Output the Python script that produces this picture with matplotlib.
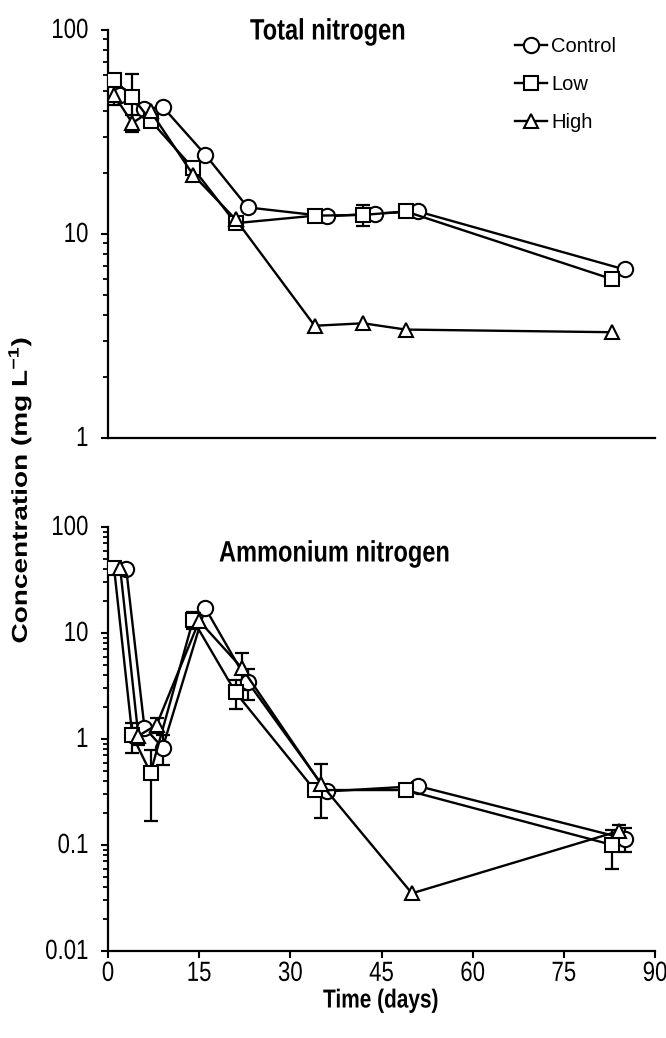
import matplotlib
matplotlib.use("Agg")
import matplotlib.pyplot as plt
import numpy as np
from matplotlib.patheffects import AbstractPathEffect
from matplotlib.ticker import LogLocator, NullFormatter
from matplotlib.transforms import Affine2D

# sampling days and concentrations (mg/L), mean and SD
ctrl_tn_day = [2, 6, 9, 16, 23, 36, 44, 51, 85]
ctrl_tn = [48, 41, 42, 24.5, 13.5, 12.2, 12.6, 12.9, 6.7]
ctrl_tn_sd = [0, 0, 0, 0, 0, 0, 0, 0, 0]

low_tn_day = [1, 4, 7, 14, 21, 34, 42, 49, 83]
low_tn = [57, 47, 36, 21, 11.3, 12.3, 12.4, 12.9, 6.0]
low_tn_sd = [4, 14, 0, 0, 0, 0, 1.5, 0, 0]

high_tn_day = [1, 4, 7, 14, 21, 34, 42, 49, 83]
high_tn = [48, 35, 40, 19.5, 11.8, 3.55, 3.65, 3.4, 3.3]
high_tn_sd = [5, 3.5, 0, 0, 0, 0, 0, 0, 0]

ctrl_an_day = [3, 6, 9, 16, 23, 36, 51, 85]
ctrl_an = [40, 1.28, 0.83, 17.2, 3.45, 0.32, 0.36, 0.115]
ctrl_an_sd = [0, 0, 0.26, 0, 1.1, 0, 0.03, 0.03]

low_an_day = [1, 4, 7, 14, 21, 34, 49, 83]
low_an = [41, 1.08, 0.48, 13.3, 2.75, 0.33, 0.33, 0.10]
low_an_sd = [0, 0.35, 0.31, 2.5, 0.85, 0, 0, 0.04]

high_an_day = [2, 5, 8, 15, 22, 35, 50, 84]
high_an = [41, 1.07, 1.36, 13.0, 4.7, 0.38, 0.035, 0.135]
high_an_sd = [0, 0.2, 0.22, 0, 1.8, 0.2, 0, 0.02]

labels = ["Control", "Low", "High"]
x_ticks = [0, 15, 30, 45, 60, 75, 90]

plt.rcParams["font.family"] = ["Liberation Sans", "DejaVu Sans"]
plt.rcParams["mathtext.fontset"] = "custom"
plt.rcParams["mathtext.rm"] = "Liberation Sans"
plt.rcParams["mathtext.bf"] = "Liberation Sans:bold"


class Stretch(AbstractPathEffect):
    """Scale glyph outlines in the text's own frame (tall, narrow type)."""

    def __init__(self, sx=1.0, sy=1.0):
        super().__init__()
        self.sx, self.sy = sx, sy

    def draw_path(self, renderer, gc, tpath, affine, rgbFace=None):
        renderer.draw_path(gc, tpath,
                           Affine2D().scale(self.sx, self.sy) + affine,
                           rgbFace)


fig = plt.figure(figsize=(6.66, 10.38), dpi=100)
ax1 = fig.add_axes([108 / 666, 1 - 438 / 1038, 547 / 666, 408 / 1038])
ax2 = fig.add_axes([108 / 666, 1 - 951 / 1038, 547 / 666, 424 / 1038])


def draw_series(ax, day, val, sd, mk):
    day = np.array(day, dtype=float)
    val = np.array(val, dtype=float)
    sd = np.array(sd, dtype=float)
    line, = ax.plot(day, val, "-", marker=mk, color="black", lw=1.7,
                    ms=11 if mk == "o" else 10, mfc="white", mec="black",
                    mew=1.5, zorder=3)
    m = sd > 0
    if m.any():
        ax.errorbar(day[m], val[m], yerr=sd[m], fmt="none", ecolor="black",
                    elinewidth=1.6, capsize=5, capthick=1.6, zorder=2)
    return line


handles = []
for day, val, sd, mk in [(ctrl_tn_day, ctrl_tn, ctrl_tn_sd, "o"),
                         (low_tn_day, low_tn, low_tn_sd, "s"),
                         (high_tn_day, high_tn, high_tn_sd, "^")]:
    handles.append(draw_series(ax1, day, val, sd, mk))

for day, val, sd, mk in [(ctrl_an_day, ctrl_an, ctrl_an_sd, "o"),
                         (low_an_day, low_an, low_an_sd, "s"),
                         (high_an_day, high_an, high_an_sd, "^")]:
    draw_series(ax2, day, val, sd, mk)

for ax in (ax1, ax2):
    ax.set_yscale("log")
    ax.set_xlim(0, 90)
    for s in ("top", "right"):
        ax.spines[s].set_visible(False)
    for s in ("left", "bottom"):
        ax.spines[s].set_linewidth(1.6)
    ax.tick_params(axis="both", which="major", direction="out", length=5,
                   width=1.5, labelsize=16, pad=9)
    ax.tick_params(axis="y", which="minor", direction="out", length=3.5,
                   width=1.3)
    ax.yaxis.set_minor_locator(LogLocator(base=10, subs=np.arange(2, 10)))
    ax.yaxis.set_minor_formatter(NullFormatter())

ax1.set_ylim(1, 100)
ax1.set_yticks([1, 10, 100], ["1", "10", "100"])
ax1.set_xticks(x_ticks)
ax1.tick_params(axis="x", length=0, labelbottom=False)

ax2.set_ylim(0.01, 100)
ax2.set_yticks([0.01, 0.1, 1, 10, 100], ["0.01", "0.1", "1", "10", "100"])
ax2.set_xticks(x_ticks, [str(t) for t in x_ticks])
ax2.tick_params(axis="x", pad=5)

tall = [Stretch(1.0, 1.25)]
fig.text(250 / 666, 1 - 33 / 1038, "Total nitrogen", fontsize=17,
         fontweight="bold", ha="left", va="center", path_effects=tall)
fig.text(219 / 666, 1 - 555 / 1038, "Ammonium nitrogen", fontsize=17,
         fontweight="bold", ha="left", va="center", path_effects=tall)
fig.text(381 / 666, 1 - 1002 / 1038, "Time (days)", fontsize=15,
         fontweight="bold", ha="center", va="center", path_effects=tall)

ylab_sx = 1.3
ylab = fig.text(20 / 666, 1 - 490 / 1038,
                r"Concentration (mg L$^{\mathbf{-1}}$)",
                fontsize=15.5, fontweight="bold", rotation=90,
                ha="center", va="center",
                path_effects=[Stretch(ylab_sx, 1.0)])

ax1.legend(handles, labels, loc="upper left",
           bbox_to_anchor=(515 / 666, 1 - 37 / 1038),
           bbox_transform=fig.transFigure, frameon=False,
           handlelength=1.6, handletextpad=0.2, labelspacing=0.95,
           borderpad=0, borderaxespad=0, numpoints=1, fontsize=14.5)

# lay out once so the tick labels exist, then give them the same tall type
fig.canvas.draw()
for ax in (ax1, ax2):
    for lbl in ax.get_xticklabels() + ax.get_yticklabels():
        lbl.set_path_effects(tall)

# the stretched y label grows from its start, so move it back to centre
span = ylab.get_window_extent().height
x0, y0 = ylab.get_position()
ylab.set_position((x0, y0 - (ylab_sx - 1) * span / 2 / fig.bbox.height))

fig.savefig("out.png", dpi=100)
